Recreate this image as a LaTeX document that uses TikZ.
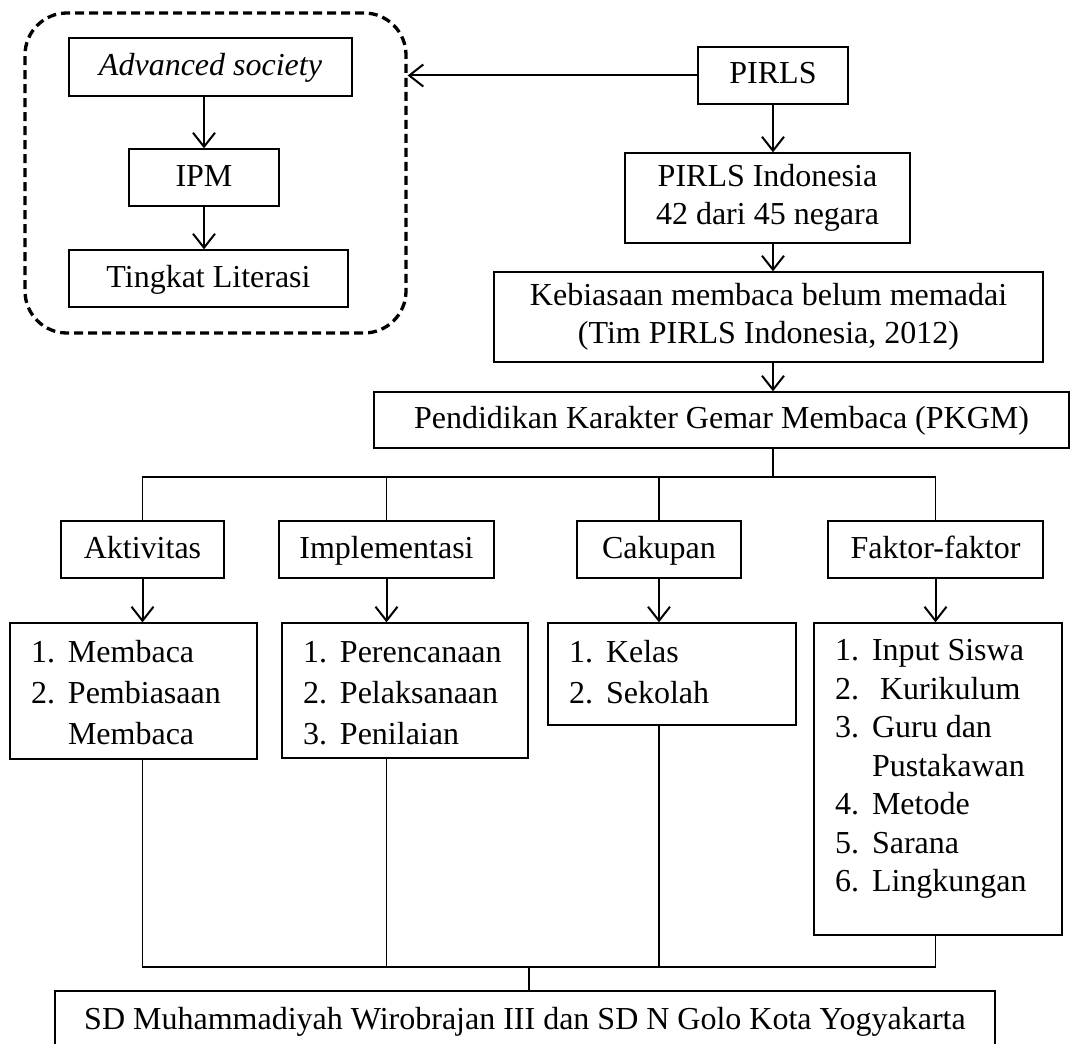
\documentclass[tikz,border=0pt]{standalone}
\usepackage{fontspec}
\setmainfont{Liberation Serif}
\usepackage{tikz}
\usetikzlibrary{arrows.meta}
\tikzset{>={Straight Barb[length=14pt,width=22pt]}}
\tikzstyle{kotak} = [rectangle, draw, line width=1.3pt, inner sep=0pt, align=center]
\tikzstyle{satu} = [text height=24pt, text depth=7pt]
\tikzstyle{grup} = [rectangle, draw, line width=3.3pt, dash pattern=on 9pt off 5pt, rounded corners=42pt]
\tikzstyle{panah} = [->, line width=2pt]
\tikzstyle{garis} = [-, line width=1.5pt]
\newcommand{\daftar}[3]{\begin{minipage}[c][#1][t]{#2}\vspace*{11pt}\begin{tabular}[t]{@{\hspace{21pt}}l@{\hspace{13pt}}l@{}}#3\end{tabular}\end{minipage}}

\begin{document}
\begin{tikzpicture}[x=1pt, y=-1pt, font=\fontsize{32}{38}\selectfont]
\useasboundingbox (0,0) rectangle (1075,1043);
% kiri atas
\node [grup, minimum width=381pt, minimum height=320pt] (grp) at (215.5,173) {};
\node [kotak, satu, minimum width=283pt, minimum height=58pt] (adv) at (210.5,67) {\textit{Advanced society}};
\node [kotak, satu, minimum width=150pt, minimum height=57pt] (ipm) at (204,177.5) {IPM};
\node [kotak, satu, minimum width=279pt, minimum height=57pt] (tl) at (208.5,278.5) {Tingkat Literasi};
% kanan atas
\node [kotak, satu, minimum width=150pt, minimum height=57pt] (pirls) at (773,75.5) {PIRLS};
\node [kotak, minimum width=285pt, minimum height=90pt] (pind) at (767.5,198) {PIRLS Indonesia\\42 dari 45 negara};
\node [kotak, minimum width=549pt, minimum height=90pt] (keb) at (768.5,317) {Kebiasaan membaca belum memadai\\(Tim PIRLS Indonesia, 2012)};
\node [kotak, satu, minimum width=695pt, minimum height=56pt] (pkgm) at (721.5,420) {Pendidikan Karakter Gemar Membaca (PKGM)};
% cabang
\node [kotak, satu, minimum width=163pt, minimum height=57pt] (akt) at (142.5,549.5) {Aktivitas};
\node [kotak, satu, minimum width=215pt, minimum height=57pt] (imp) at (386.5,549.5) {Implementasi};
\node [kotak, satu, minimum width=164pt, minimum height=57pt] (cak) at (659,549.5) {Cakupan};
\node [kotak, satu, minimum width=215pt, minimum height=57pt] (fak) at (935.5,549.5) {Faktor-faktor};
% isi
\node [kotak, font=\fontsize{32}{41}\selectfont] (aktL) at (133.5,691) {\daftar{136pt}{247pt}{1. & Membaca\\ 2. & Pembiasaan\\ & Membaca}};
\node [kotak, font=\fontsize{32}{41}\selectfont] (impL) at (405,690.5) {\daftar{135pt}{246pt}{1. & Perencanaan\\ 2. & Pelaksanaan\\ 3. & Penilaian}};
\node [kotak, font=\fontsize{32}{41}\selectfont] (cakL) at (672,674) {\daftar{102pt}{248pt}{1. & Kelas\\ 2. & Sekolah}};
\node [kotak, font=\fontsize{32}{38.5}\selectfont] (fakL) at (938,779) {\daftar{312pt}{248pt}{1. & Input Siswa\\ 2. & ~Kurikulum\\ 3. & Guru dan\\ & Pustakawan\\ 4. & Metode\\ 5. & Sarana\\ 6. & Lingkungan}};
\node [kotak, satu, minimum width=940pt, minimum height=59pt] (fin) at (525,1020.5) {SD Muhammadiyah Wirobrajan III dan SD N Golo Kota Yogyakarta};
\coordinate (bus) at (773,477);
\coordinate (bus2) at (529,967);
% panah
\draw [panah] (ipm.north |- adv.south) to (ipm.north);
\draw [panah] (ipm.south) to (ipm.south |- tl.north);
\draw [panah] (pirls.west) to (pirls.west -| grp.east);
\draw [panah] (pirls.south) to (pirls.south |- pind.north);
\draw [panah] (pind.south -| pirls) to (pirls |- keb.north);
\draw [panah] (keb.south -| pirls) to (pirls |- pkgm.north);
\draw [garis] (pkgm.south -| bus) to (bus);
\foreach \c in {akt, imp, cak, fak}
  \draw [garis] (\c.north) |- (bus);
\foreach \c in {akt, imp, cak, fak}
  \draw [panah] (\c.south) to (\c.south |- \c L.north);
\foreach \c in {akt, imp, cak, fak}
  \draw [garis] (\c L.south -| \c) |- (bus2);
\draw [garis] (bus2) to (bus2 |- fin.north);
\end{tikzpicture}
\end{document}
